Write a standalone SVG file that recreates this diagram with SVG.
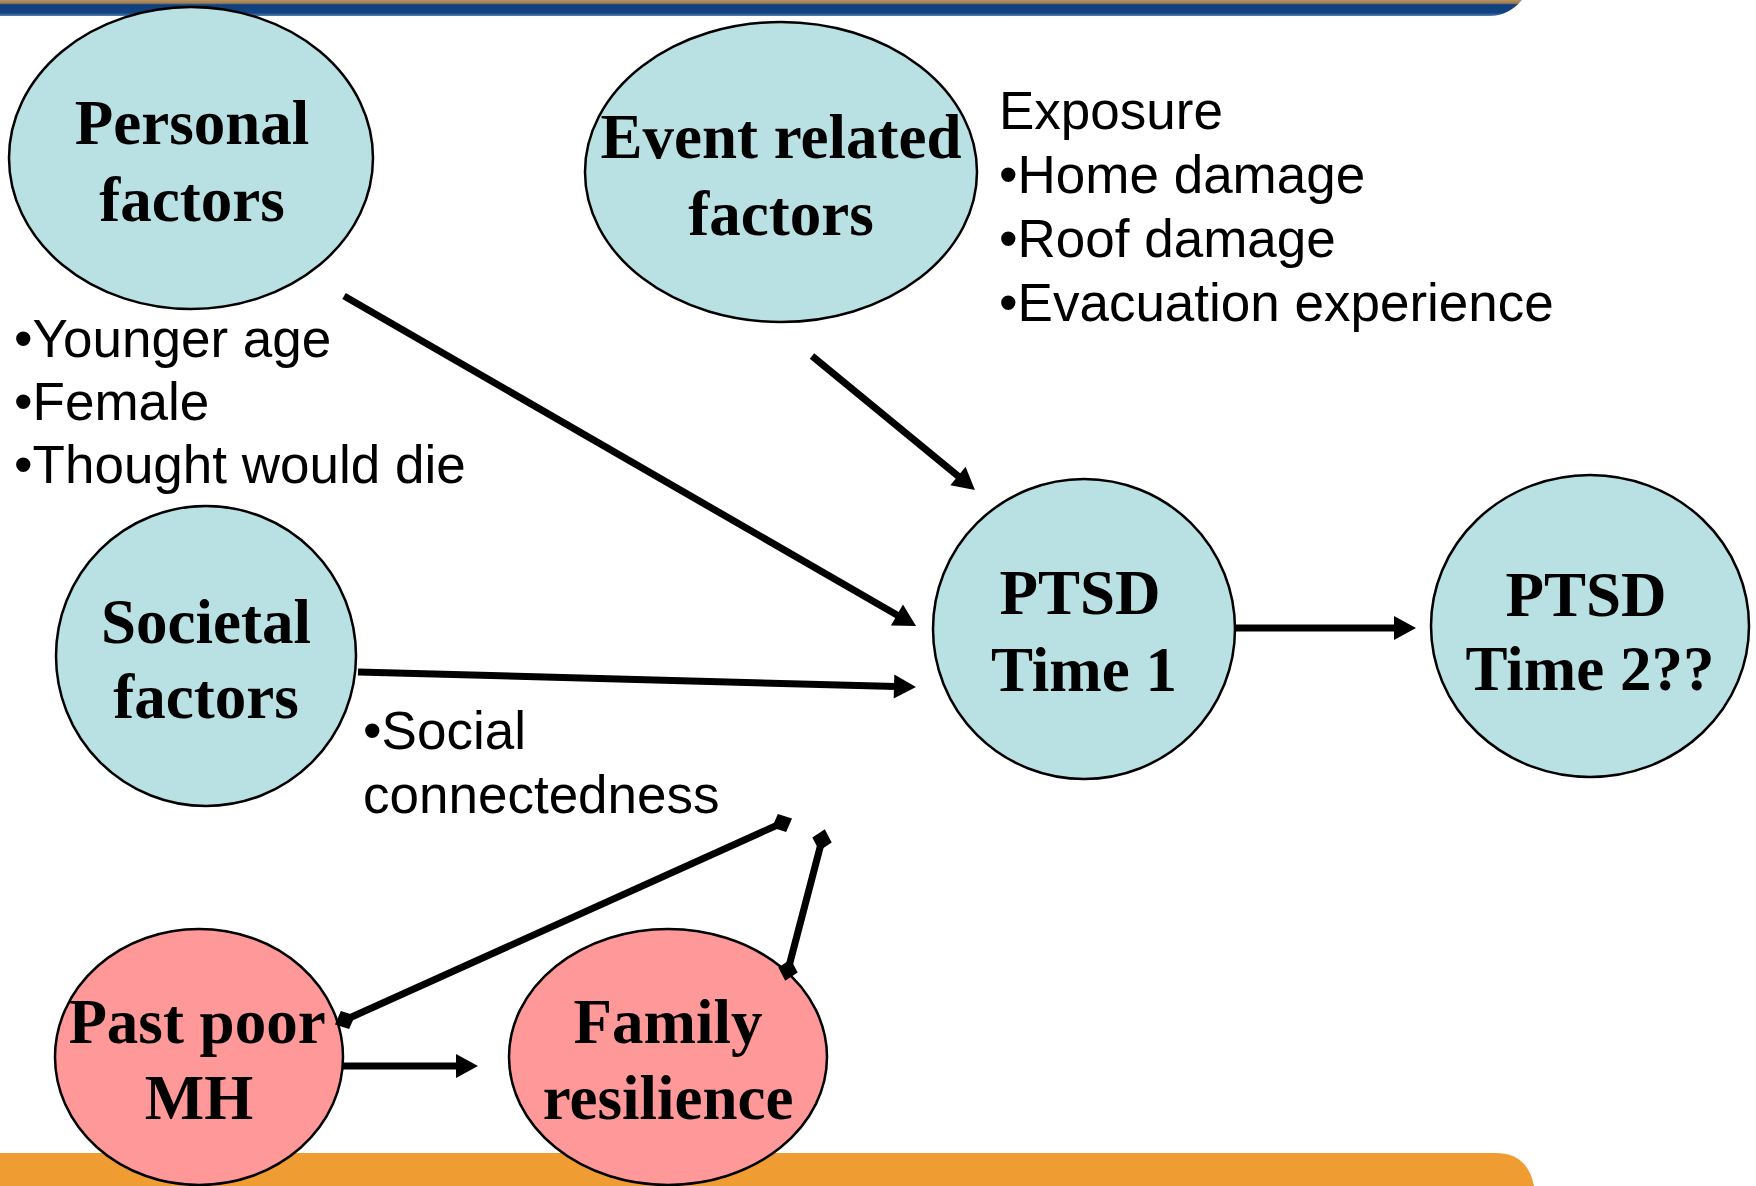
<svg xmlns="http://www.w3.org/2000/svg" width="1756" height="1186" viewBox="0 0 1756 1186">
<style>
.blue{fill:#b9e0e3;stroke:#000;stroke-width:2.5}
.pink{fill:#ff9999;stroke:#000;stroke-width:2.5}
.nt{font-family:"Liberation Serif","Times New Roman",serif;font-weight:bold;font-size:63px;fill:#000;text-anchor:middle}
.lt{font-family:"Liberation Sans",Arial,sans-serif;font-size:53px;fill:#000}
.c{stroke:#000;stroke-width:7;fill:none}
</style>
<defs>
<linearGradient id="tg" x1="0" y1="0" x2="0" y2="1">
<stop offset="0" stop-color="#b8925a"/>
<stop offset="0.2" stop-color="#9a7e5a"/>
<stop offset="0.3" stop-color="#103f7c"/>
<stop offset="0.8" stop-color="#0f4482"/>
<stop offset="1" stop-color="#5b7fae"/>
</linearGradient>
<marker id="arr" markerUnits="userSpaceOnUse" markerWidth="24" markerHeight="26" refX="2" refY="12" orient="auto" overflow="visible">
<path d="M0,0 L22,12 L0,24 Z" fill="#000"/>
</marker>
<marker id="dia" markerUnits="userSpaceOnUse" markerWidth="24" markerHeight="24" refX="0" refY="0" orient="auto" overflow="visible">
<path d="M-11,0 L0,-10 L11,0 L0,10 Z" fill="#000"/>
</marker>
</defs>
<rect width="1756" height="1186" fill="#fff"/>
<path d="M0,0 H1522 Q1508,16 1490,16 H0 Z" fill="url(#tg)"/>
<path d="M0,1153 H1495 Q1528,1153 1534,1186 H0 Z" fill="#ef9c32"/>

<g id="connectors">
<line class="c" x1="344" y1="296" x2="898.7" y2="616" marker-end="url(#arr)"/>
<line class="c" x1="812" y1="356" x2="959.5" y2="477.3" marker-end="url(#arr)"/>
<line class="c" x1="358" y1="672" x2="896" y2="686.5" marker-end="url(#arr)"/>
<line class="c" x1="1235" y1="628" x2="1396" y2="628" marker-end="url(#arr)"/>
<line class="c" x1="343" y1="1066" x2="458" y2="1066" marker-end="url(#arr)"/>
</g>

<g id="personal">
<ellipse class="blue" cx="191" cy="158" rx="182" ry="151"/>
<text class="nt" x="192" y="144">Personal</text>
<text class="nt" x="192" y="221">factors</text>
</g>
<g id="event">
<ellipse class="blue" cx="781" cy="172" rx="196" ry="150"/>
<text class="nt" x="781" y="158">Event related</text>
<text class="nt" x="781" y="235">factors</text>
</g>
<g id="societal">
<ellipse class="blue" cx="206" cy="656" rx="150" ry="150"/>
<text class="nt" x="206" y="643">Societal</text>
<text class="nt" x="206" y="718">factors</text>
</g>
<g id="ptsd1">
<ellipse class="blue" cx="1084" cy="629" rx="151" ry="150"/>
<text class="nt" x="1080" y="614">PTSD</text>
<text class="nt" x="1084" y="691">Time 1</text>
</g>
<g id="ptsd2">
<ellipse class="blue" cx="1590" cy="626" rx="159" ry="151"/>
<text class="nt" x="1586" y="616">PTSD</text>
<text class="nt" x="1590" y="690">Time 2??</text>
</g>
<g id="pastpoor">
<ellipse class="pink" cx="199" cy="1057" rx="144" ry="128"/>
<text class="nt" x="197" y="1043">Past poor</text>
<text class="nt" x="199" y="1119">MH</text>
</g>
<g id="family">
<ellipse class="pink" cx="668" cy="1057" rx="159" ry="128"/>
<text class="nt" x="668" y="1043">Family</text>
<text class="nt" x="668" y="1119">resilience</text>
</g>

<g id="diamond-connectors">
<line class="c" x1="345" y1="1020" x2="782" y2="823" marker-start="url(#dia)" marker-end="url(#dia)"/>
<line class="c" x1="788" y1="970" x2="822" y2="840" marker-start="url(#dia)" marker-end="url(#dia)"/>
</g>

<g id="labels">
<text class="lt" x="999" y="129">Exposure</text>
<text class="lt" x="999" y="193">•Home damage</text>
<text class="lt" x="999" y="257">•Roof damage</text>
<text class="lt" x="999" y="321">•Evacuation experience</text>
<text class="lt" x="14" y="357">•Younger age</text>
<text class="lt" x="14" y="420">•Female</text>
<text class="lt" x="14" y="483">•Thought would die</text>
<text class="lt" x="363" y="749">•Social</text>
<text class="lt" x="363" y="813">connectedness</text>
</g>
</svg>
